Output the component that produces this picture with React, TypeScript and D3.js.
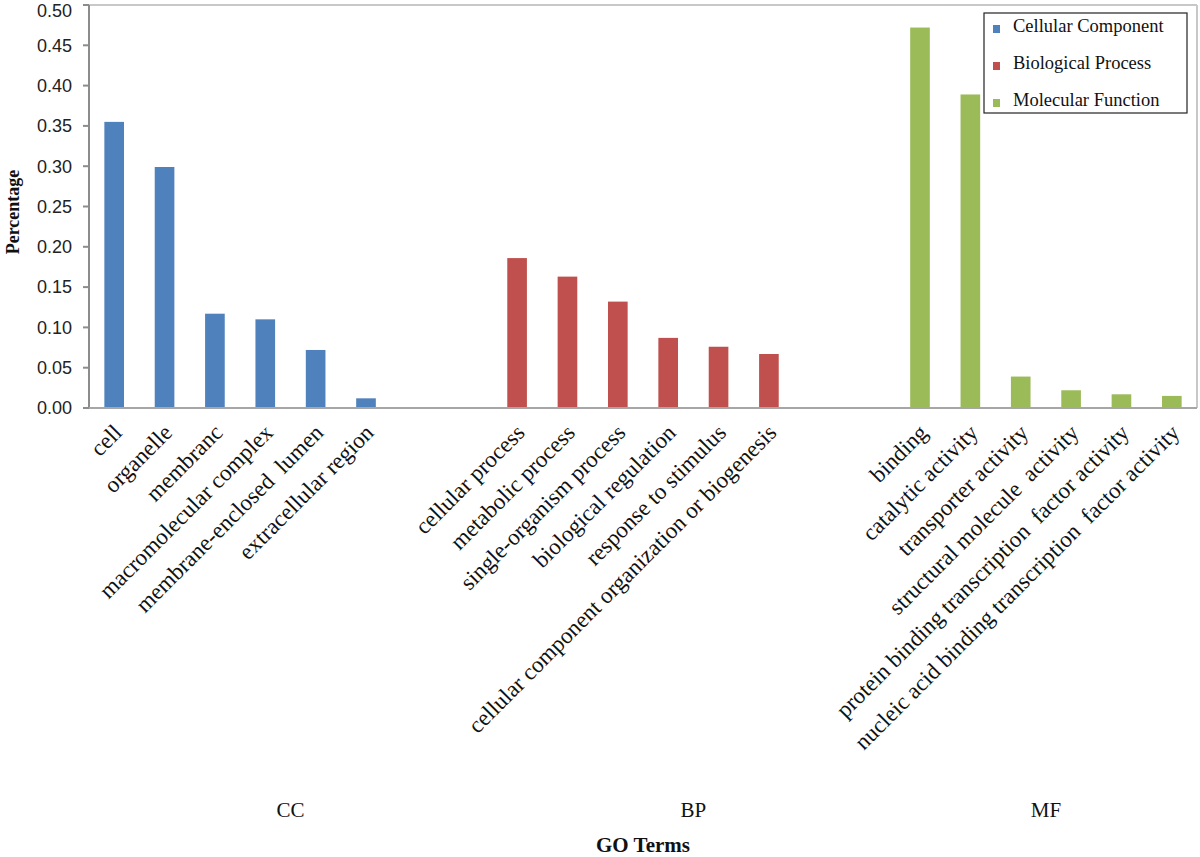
import React from "react";
import * as d3 from "d3";

const ccTerms = ["cell", "organelle", "membranc", "macromolecular complex", "membrane-enclosed  lumen", "extracellular region"];
const ccValues = [0.355, 0.299, 0.117, 0.110, 0.072, 0.012];
const bpTerms = ["cellular process", "metabolic process", "single-organism process", "biological regulation", "response to stimulus", "cellular component organization or biogenesis"];
const bpValues = [0.186, 0.163, 0.132, 0.087, 0.076, 0.067];
const mfTerms = ["binding", "catalytic activity", "transporter activity", "structural molecule  activity", "protein binding transcription  factor activity", "nucleic acid binding transcription  factor activity"];
const mfValues = [0.472, 0.389, 0.039, 0.022, 0.017, 0.015];
const groupNames = ["CC", "BP", "MF"];
const seriesNames = ["Cellular Component", "Biological Process", "Molecular Function"];
const seriesColors = ["#4F81BD", "#C0504D", "#9BBB59"];
const yTicks = [0, 0.05, 0.1, 0.15, 0.2, 0.25, 0.3, 0.35, 0.4, 0.45, 0.5];

type Slot = { key: string; term: string; value: number | null; group: number };

const groups = [
  { terms: ccTerms, values: ccValues },
  { terms: bpTerms, values: bpValues },
  { terms: mfTerms, values: mfValues },
];

const slots: Slot[] = [];
groups.forEach((g, gi) => {
  g.terms.forEach((t, i) => slots.push({ key: `${gi}-${i}`, term: t, value: g.values[i], group: gi }));
  if (gi < groups.length - 1) {
    slots.push({ key: `${gi}-gapA`, term: "", value: null, group: gi });
    slots.push({ key: `${gi}-gapB`, term: "", value: null, group: gi });
  }
});

const serif = "'Liberation Serif', 'Times New Roman', serif";
const sans = "'Liberation Sans', Arial, sans-serif";

export default function App() {
  const left = 89, right = 1197, top = 5, bottom = 408;
  const x = d3.scaleBand<string>().domain(slots.map((s) => s.key)).range([left, right]).paddingInner(0.61).paddingOuter(0.305);
  const y = d3.scaleLinear().domain([0, 0.5]).range([bottom, top]);
  const fmt = d3.format(".2f");
  const cx = (k: string) => (x(k) ?? 0) + x.bandwidth() / 2;

  const groupCenters = [0, 1, 2].map((gi) => {
    const ks = slots.filter((s) => s.group === gi).map((s) => cx(s.key));
    return (d3.min(ks)! + d3.max(ks)!) / 2;
  });

  return (
    <svg width={1200} height={857} style={{ position: "absolute", left: 0, top: 0, background: "#fff" }}>
      <rect x={0} y={0} width={1200} height={857} fill="#fff" />
      {/* plot border */}
      <line x1={left} x2={right} y1={top} y2={top} stroke="#c8c8c8" strokeWidth={2} />
      <line x1={right} x2={right} y1={top} y2={bottom} stroke="#c8c8c8" strokeWidth={2} />
      {/* bars */}
      {slots.filter((s) => s.value !== null).map((s) => (
        <rect key={s.key} x={x(s.key)} y={y(s.value as number)} width={x.bandwidth()} height={y(0) - y(s.value as number)} fill={seriesColors[s.group]} />
      ))}
      {/* axes */}
      <line x1={left} x2={left} y1={top} y2={bottom} stroke="#8c8c8c" strokeWidth={2} />
      <line x1={left - 6} x2={right} y1={bottom} y2={bottom} stroke="#a6a6a6" strokeWidth={2} />
      {yTicks.map((t) => (
        <g key={t}>
          <line x1={left - 6} x2={left} y1={y(t)} y2={y(t)} stroke="#8c8c8c" strokeWidth={2} />
          <text x={72} y={Math.max(y(t), 11)} dy="0.35em" textAnchor="end" fontFamily={sans} fontSize={18} fill="#222">{fmt(t)}</text>
        </g>
      ))}
      {/* category labels */}
      {slots.filter((s) => s.term).map((s) => (
        <text key={s.key} transform={`translate(${cx(s.key) + 9},${bottom + 26}) rotate(-45)`} textAnchor="end" fontFamily={serif} fontSize={23} fill="#111" style={{ whiteSpace: "pre" }}>{s.term}</text>
      ))}
      {/* group labels */}
      {groupNames.map((g, i) => (
        <text key={g} x={groupCenters[i]} y={817} textAnchor="middle" fontFamily={serif} fontSize={21} fill="#111">{g}</text>
      ))}
      <text x={(left + right) / 2} y={852} textAnchor="middle" fontFamily={serif} fontWeight="bold" fontSize={21} fill="#111">GO Terms</text>
      <text transform={`translate(19,212) rotate(-90)`} textAnchor="middle" fontFamily={serif} fontWeight="bold" fontSize={18} fill="#111">Percentage</text>
      {/* legend */}
      <rect x={984} y={13} width={203} height={100} fill="#fff" stroke="#222" strokeWidth={1.2} />
      {seriesNames.map((n, i) => (
        <g key={n}>
          <rect x={993} y={26 + i * 37 - 1} width={7} height={8} fill={seriesColors[i]} />
          <text x={1013} y={26 + i * 37} dy="0.35em" fontFamily={serif} fontSize={18.5} fill="#111">{n}</text>
        </g>
      ))}
    </svg>
  );
}
